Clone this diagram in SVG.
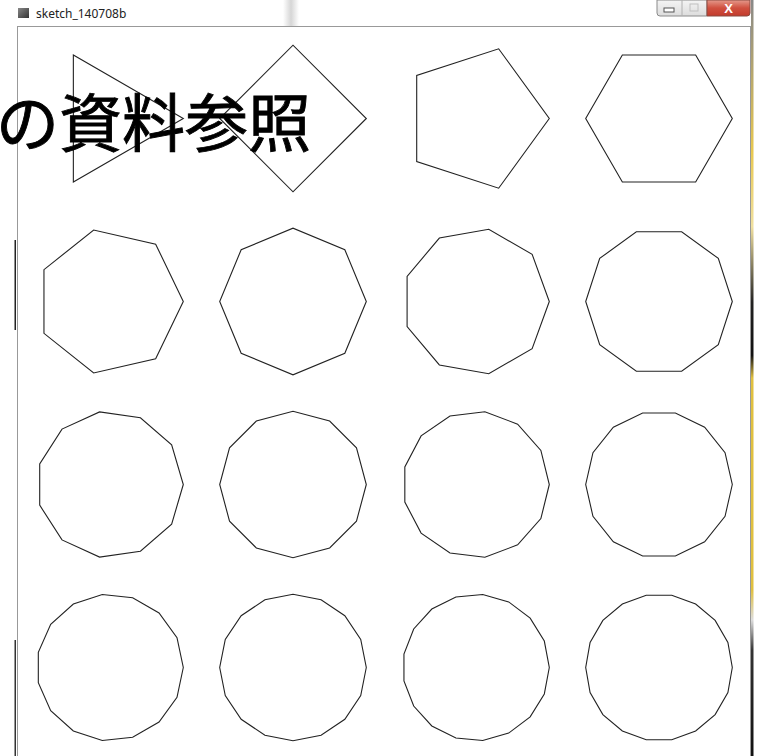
<svg xmlns="http://www.w3.org/2000/svg" width="759" height="756" viewBox="0 0 759 756">
<style>
.poly{fill:none;stroke:#222;stroke-width:1.1;vector-effect:non-scaling-stroke}
.title{font-family:"Noto Sans","Liberation Sans",sans-serif;font-size:12px;fill:#222}
.big{font-family:"Noto Sans CJK JP","Noto Sans CJK SC",sans-serif;font-size:63px;font-weight:400;fill:#000;stroke:#000;stroke-width:0.9}
</style>
<defs>
<linearGradient id="blur" x1="0" y1="0" x2="1" y2="0">
<stop offset="0" stop-color="#fff"/><stop offset="0.5" stop-color="#d6d6d6"/><stop offset="1" stop-color="#fff"/>
</linearGradient>
<linearGradient id="btn" x1="0" y1="0" x2="0" y2="1">
<stop offset="0" stop-color="#f4f4f4"/><stop offset="1" stop-color="#dcdcdc"/>
</linearGradient>
<linearGradient id="close" x1="0" y1="0" x2="0" y2="1">
<stop offset="0" stop-color="#e59a8c"/><stop offset="0.5" stop-color="#d0503f"/><stop offset="1" stop-color="#c23a2c"/>
</linearGradient>
<linearGradient id="icon" x1="0" y1="0" x2="1" y2="1">
<stop offset="0" stop-color="#888"/><stop offset="1" stop-color="#333"/>
</linearGradient>
<linearGradient id="rstrip" x1="0" y1="0" x2="0" y2="1">
<stop offset="0" stop-color="#888"/><stop offset="0.2" stop-color="#e8c850"/><stop offset="0.3" stop-color="#f0e0a0"/><stop offset="0.4" stop-color="#222"/><stop offset="0.47" stop-color="#111"/><stop offset="0.5" stop-color="#e0c040"/><stop offset="0.78" stop-color="#e0c040"/><stop offset="0.82" stop-color="#ddd"/><stop offset="0.86" stop-color="#333"/><stop offset="1" stop-color="#111"/>
</linearGradient>
</defs>
<rect width="759" height="756" fill="#fff"/>
<g id="window-chrome">
<rect x="283" y="0" width="16" height="26" fill="url(#blur)"/>
<rect x="18" y="8" width="11" height="10" fill="url(#icon)"/>
<text class="title" x="36" y="18">sketch_140708b</text>
<path d="M657,0 V13 a3,3 0 0 0 3,3 H707 V0 Z" fill="url(#btn)" stroke="#8a8a8a"/>
<line x1="682" y1="0" x2="682" y2="16" stroke="#b0b0b0"/>
<rect x="664" y="8" width="10" height="4" fill="#fff" stroke="#555"/>
<rect x="690" y="4" width="8" height="7" fill="none" stroke="#c0c0c0"/>
<path d="M707,0 V16 H747 a3,3 0 0 0 3,-3 V0 Z" fill="url(#close)" stroke="#8a4a40"/>
<text x="728.5" y="13" text-anchor="middle" font-family="Liberation Sans,sans-serif" font-weight="bold" font-size="13" fill="#fff">X</text>
<rect x="17.5" y="26.5" width="733" height="740" fill="none" stroke="#999"/>
<rect x="751" y="0" width="2.5" height="756" fill="url(#rstrip)"/>
<rect x="14.5" y="240" width="1.5" height="90" fill="#222"/>
<rect x="14.5" y="640" width="1.5" height="116" fill="#333"/>
</g>
<g id="n3"><polygon class="poly" transform="translate(110,118.5) scale(73.3)" points="1,0 -0.5,0.866 -0.5,-0.866"/></g>
<g id="n4"><polygon class="poly" transform="translate(293,118.5) scale(73.3)" points="1,0 0,1 -1,0 0,-1"/></g>
<g id="n5"><polygon class="poly" transform="translate(476,118.5) scale(73.3)" points="1,0 0.309,0.951 -0.809,0.588 -0.809,-0.588 0.309,-0.951"/></g>
<g id="n6"><polygon class="poly" transform="translate(659,118.5) scale(73.3)" points="1,0 0.5,0.866 -0.5,0.866 -1,0 -0.5,-0.866 0.5,-0.866"/></g>
<g id="n7"><polygon class="poly" transform="translate(110,301.5) scale(73.3)" points="1,0 0.623,0.782 -0.223,0.975 -0.901,0.434 -0.901,-0.434 -0.223,-0.975 0.623,-0.782"/></g>
<g id="n8"><polygon class="poly" transform="translate(293,301.5) scale(73.3)" points="1,0 0.707,0.707 0,1 -0.707,0.707 -1,0 -0.707,-0.707 0,-1 0.707,-0.707"/></g>
<g id="n9"><polygon class="poly" transform="translate(476,301.5) scale(73.3)" points="1,0 0.766,0.643 0.174,0.985 -0.5,0.866 -0.940,0.342 -0.940,-0.342 -0.5,-0.866 0.174,-0.985 0.766,-0.643"/></g>
<g id="n10"><polygon class="poly" transform="translate(659,301.5) scale(73.3)" points="1,0 0.809,0.588 0.309,0.951 -0.309,0.951 -0.809,0.588 -1,0 -0.809,-0.588 -0.309,-0.951 0.309,-0.951 0.809,-0.588"/></g>
<g id="n11"><polygon class="poly" transform="translate(110,484.5) scale(73.3)" points="1,0 0.841,0.541 0.415,0.910 -0.142,0.990 -0.655,0.756 -0.959,0.282 -0.959,-0.282 -0.655,-0.756 -0.142,-0.990 0.415,-0.910 0.841,-0.541"/></g>
<g id="n12"><polygon class="poly" transform="translate(293,484.5) scale(73.3)" points="1,0 0.866,0.5 0.5,0.866 0,1 -0.5,0.866 -0.866,0.5 -1,0 -0.866,-0.5 -0.5,-0.866 0,-1 0.5,-0.866 0.866,-0.5"/></g>
<g id="n13"><polygon class="poly" transform="translate(476,484.5) scale(73.3)" points="1,0 0.885,0.465 0.568,0.823 0.121,0.993 -0.355,0.935 -0.749,0.663 -0.971,0.239 -0.971,-0.239 -0.749,-0.663 -0.355,-0.935 0.121,-0.993 0.568,-0.823 0.885,-0.465"/></g>
<g id="n14"><polygon class="poly" transform="translate(659,484.5) scale(73.3)" points="1,0 0.901,0.434 0.623,0.782 0.223,0.975 -0.223,0.975 -0.623,0.782 -0.901,0.434 -1,0 -0.901,-0.434 -0.623,-0.782 -0.223,-0.975 0.223,-0.975 0.623,-0.782 0.901,-0.434"/></g>
<g id="n15"><polygon class="poly" transform="translate(110,667.5) scale(73.3)" points="1,0 0.914,0.407 0.669,0.743 0.309,0.951 -0.105,0.995 -0.5,0.866 -0.809,0.588 -0.978,0.208 -0.978,-0.208 -0.809,-0.588 -0.5,-0.866 -0.105,-0.995 0.309,-0.951 0.669,-0.743 0.914,-0.407"/></g>
<g id="n16"><polygon class="poly" transform="translate(293,667.5) scale(73.3)" points="1,0 0.924,0.383 0.707,0.707 0.383,0.924 0,1 -0.383,0.924 -0.707,0.707 -0.924,0.383 -1,0 -0.924,-0.383 -0.707,-0.707 -0.383,-0.924 0,-1 0.383,-0.924 0.707,-0.707 0.924,-0.383"/></g>
<g id="n17"><polygon class="poly" transform="translate(476,667.5) scale(73.3)" points="1,0 0.932,0.361 0.739,0.674 0.446,0.895 0.092,0.996 -0.274,0.962 -0.603,0.798 -0.850,0.526 -0.983,0.184 -0.983,-0.184 -0.850,-0.526 -0.603,-0.798 -0.274,-0.962 0.092,-0.996 0.446,-0.895 0.739,-0.674 0.932,-0.361"/></g>
<g id="n18"><polygon class="poly" transform="translate(659,667.5) scale(73.3)" points="1,0 0.940,0.342 0.766,0.643 0.5,0.866 0.174,0.985 -0.174,0.985 -0.5,0.866 -0.766,0.643 -0.940,0.342 -1,0 -0.940,-0.342 -0.766,-0.643 -0.5,-0.866 -0.174,-0.985 0.174,-0.985 0.5,-0.866 0.766,-0.643 0.940,-0.342"/></g>
<g id="caption"><text class="big" x="-4" y="146">の資料参照</text></g>
</svg>
